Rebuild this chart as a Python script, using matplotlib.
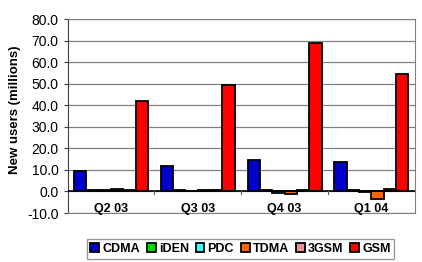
import matplotlib.pyplot as plt
import numpy as np

plt.rcParams['font.family'] = ['Liberation Sans', 'DejaVu Sans']

# quarters and technologies
quarters = ["Q2 03", "Q3 03", "Q4 03", "Q1 04"]
techs = ["CDMA", "iDEN", "PDC", "TDMA", "3GSM", "GSM"]
colors = ["#0000cc", "#00dd00", "#33ffff", "#ff6600", "#f09090", "#ff0000"]

# new users (millions), one list per technology
cdma = [9.3, 11.7, 14.4, 13.6]
iden = [0.7, 0.6, 0.5, 0.5]
pdc = [0.7, 0.2, -0.5, -0.4]
tdma = [1.2, 0.5, -1.3, -3.7]
gsm3 = [0.5, 0.6, 0.8, 1.3]
gsm = [42.0, 49.6, 69.1, 54.7]
series = [cdma, iden, pdc, tdma, gsm3, gsm]

fig = plt.figure(figsize=(4.22, 2.62), dpi=100)
ax = fig.add_axes([0.16, 0.187, 0.823, 0.740])

x = np.arange(len(quarters))
w = 0.142
for i, (vals, name, c) in enumerate(zip(series, techs, colors)):
    ax.bar(x + (i - 2.5) * w, vals, w, color=c, edgecolor="black",
           linewidth=1.3, label=name, zorder=3)

ax.set_xlim(-0.5, 3.5)
ax.set_ylim(-10, 80)
ax.set_yticks(np.arange(-10, 81, 10))
ax.set_yticklabels([f"{v:.1f}" for v in np.arange(-10, 81, 10)], fontsize=10)
ax.yaxis.grid(True, color="#808080", linewidth=0.9, zorder=0)
ax.tick_params(axis="y", direction="out", length=3, color="#404040", width=0.8)
ax.set_xticks([])

# category axis at zero with ticks between categories
ax.axhline(0, color="black", linewidth=1.2, zorder=4)
for b in [0.5, 1.5, 2.5]:
    ax.plot([b, b], [0, -1.2], color="#606060", linewidth=0.8, zorder=4)
for xi, q in zip(x, quarters):
    ax.text(xi, -8.3, q, ha="center", va="center", fontsize=9,
            fontweight="bold", zorder=5)

for s in ["top", "right", "bottom"]:
    ax.spines[s].set_color("#808080")
ax.spines["left"].set_color("#404040")

ax.set_ylabel("New users (millions)", fontsize=9.5, fontweight="bold", labelpad=2)
ax.yaxis.set_label_coords(-0.135, 0.53)

leg = fig.legend(loc="center", bbox_to_anchor=(0.57, 0.05), ncol=6,
                 prop={"size": 9, "weight": "bold"}, frameon=True, fancybox=False,
                 handlelength=0.7, handleheight=0.7, handletextpad=0.25,
                 columnspacing=0.55, borderpad=0.3)
leg.get_frame().set_edgecolor("#808080")
leg.get_frame().set_linewidth(1.0)

fig.savefig("out.png", dpi=100)
